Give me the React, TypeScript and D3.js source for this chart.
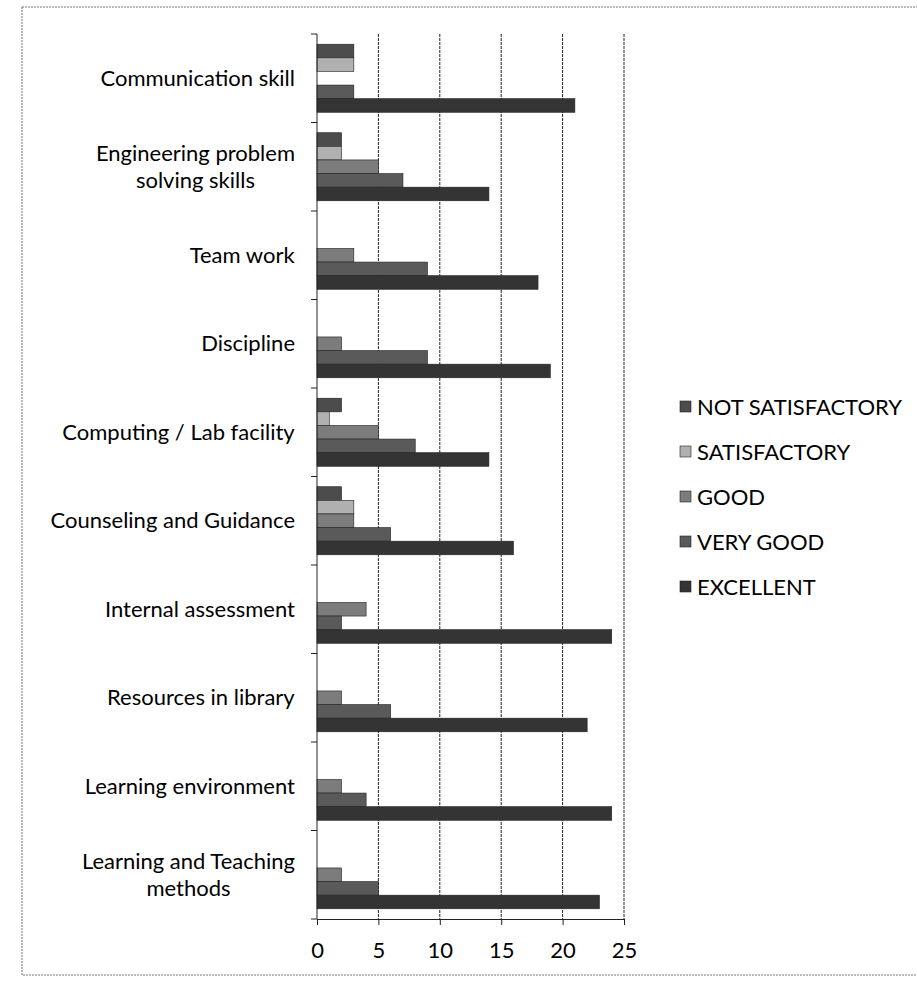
import { useEffect, useRef } from "react";
import * as d3 from "d3";

// Chart data
const categories = [
  "Communication skill",
  "Engineering problem|solving skills",
  "Team work",
  "Discipline",
  "Computing / Lab facility",
  "Counseling and Guidance",
  "Internal assessment",
  "Resources in library",
  "Learning environment",
  "Learning and Teaching|methods",
];
const seriesNames = ["NOT SATISFACTORY", "SATISFACTORY", "GOOD", "VERY GOOD", "EXCELLENT"];
const notSatisfactory = [3, 2, 0, 0, 2, 2, 0, 0, 0, 0];
const satisfactory = [3, 2, 0, 0, 1, 3, 0, 0, 0, 0];
const good = [0, 5, 3, 2, 5, 3, 4, 2, 2, 2];
const veryGood = [3, 7, 9, 9, 8, 6, 2, 6, 4, 5];
const excellent = [21, 14, 18, 19, 14, 16, 24, 22, 24, 23];
const xTicks = [0, 5, 10, 15, 20, 25];

const seriesValues = [notSatisfactory, satisfactory, good, veryGood, excellent];
const colors = ["#4c4c4c", "#b0b0b0", "#7c7c7c", "#5a5a5a", "#343434"];

const width = 917;
const height = 981;
const PLOT = { left: 317, right: 624, top: 34, bottom: 919 };
const FONT = "Lato, 'Noto Sans', sans-serif";
const FONT_SIZE = 22;

export default function App() {
  const svgRef = useRef<SVGSVGElement | null>(null);

  useEffect(() => {
    const svg = d3.select(svgRef.current);
    svg.selectAll("*").remove();

    // outer frame (dotted like the scan)
    svg
      .append("rect")
      .attr("x", 22)
      .attr("y", 7)
      .attr("width", 905)
      .attr("height", 968)
      .attr("fill", "none")
      .attr("stroke", "#777")
      .attr("stroke-dasharray", "2,1");

    const x = d3.scaleLinear().domain([0, 25]).range([PLOT.left, PLOT.right]);
    const y = d3
      .scaleBand()
      .domain(categories)
      .range([PLOT.top, PLOT.bottom])
      .paddingInner(0.231)
      .paddingOuter(0.1155);
    const y1 = d3.scaleBand().domain(seriesNames).range([0, y.bandwidth()]);

    // gridlines
    svg
      .append("g")
      .selectAll("line")
      .data(xTicks.slice(1))
      .join("line")
      .attr("x1", (d) => x(d))
      .attr("x2", (d) => x(d))
      .attr("y1", PLOT.top)
      .attr("y2", PLOT.bottom)
      .attr("stroke", "#222")
      .attr("stroke-width", 1)
      .attr("stroke-dasharray", "3,1");

    // bars
    const groups = svg
      .append("g")
      .selectAll("g")
      .data(categories)
      .join("g")
      .attr("transform", (d) => `translate(0,${y(d)})`);

    groups
      .selectAll("rect")
      .data((_, i) => seriesNames.map((s, j) => ({ s, j, v: seriesValues[j][i] })))
      .join("rect")
      .attr("x", x(0))
      .attr("y", (d) => y1(d.s)!)
      .attr("width", (d) => x(d.v) - x(0))
      .attr("height", y1.bandwidth())
      .attr("fill", (d) => colors[d.j])
      .attr("stroke", (d) => (d.v > 0 ? "#222" : "none"))
      .attr("stroke-width", 0.6);

    // y axis line + ticks at band boundaries
    const step = (PLOT.bottom - PLOT.top) / categories.length;
    svg
      .append("line")
      .attr("x1", x(0))
      .attr("x2", x(0))
      .attr("y1", PLOT.top)
      .attr("y2", PLOT.bottom)
      .attr("stroke", "#222");
    svg
      .append("g")
      .selectAll("line")
      .data(d3.range(categories.length + 1))
      .join("line")
      .attr("x1", x(0) - 6)
      .attr("x2", x(0))
      .attr("y1", (i) => PLOT.top + i * step)
      .attr("y2", (i) => PLOT.top + i * step)
      .attr("stroke", "#222");

    // x axis
    const xAxis = svg
      .append("g")
      .attr("transform", `translate(0,${PLOT.bottom})`)
      .call(d3.axisBottom(x).tickValues(xTicks).tickSize(6).tickSizeOuter(0));
    xAxis.select(".domain").attr("stroke", "#222");
    xAxis.selectAll(".tick line").attr("stroke", "#222");
    xAxis
      .selectAll(".tick text")
      .attr("font-family", FONT)
      .attr("font-size", FONT_SIZE)
      .attr("fill", "#000")
      .attr("y", 39)
      .attr("dy", 0);

    // category labels: block right-aligned, lines centred inside the block
    const lineH = 27;
    const labelRight = x(0) - 22;
    const labels = svg
      .append("g")
      .selectAll("text")
      .data(categories)
      .join("text")
      .attr("font-family", FONT)
      .attr("font-size", FONT_SIZE)
      .attr("fill", "#000")
      .attr("text-anchor", "middle");

    labels.each(function (d, i) {
      const lines = d.split("|");
      const t = d3.select(this);
      const cy = PLOT.top + i * step + step / 2;
      const startY = cy - ((lines.length - 1) * lineH) / 2;
      lines.forEach((ln, k) => {
        t.append("tspan")
          .attr("x", 0)
          .attr("y", startY + k * lineH)
          .attr("dy", "0.35em")
          .text(ln);
      });
      const bb = (this as SVGTextElement).getBBox();
      t.selectAll("tspan").attr("x", labelRight - bb.width / 2);
    });

    // legend
    const legend = svg
      .append("g")
      .selectAll("g")
      .data(seriesNames)
      .join("g")
      .attr("transform", (_, i) => `translate(680,${407 + i * 45})`);
    legend
      .append("rect")
      .attr("x", 0)
      .attr("y", -6)
      .attr("width", 11)
      .attr("height", 11)
      .attr("fill", (_, i) => colors[i])
      .attr("stroke", "#222")
      .attr("stroke-width", 0.6);
    legend
      .append("text")
      .attr("x", 17)
      .attr("dy", "0.35em")
      .attr("font-family", FONT)
      .attr("font-size", FONT_SIZE)
      .attr("fill", "#000")
      .text((d) => d);
  }, []);

  return (
    <div style={{ position: "absolute", left: 0, top: 0 }}>
      <svg width={width} height={height} ref={svgRef} style={{ display: "block", background: "#fff" }} />
    </div>
  );
}
